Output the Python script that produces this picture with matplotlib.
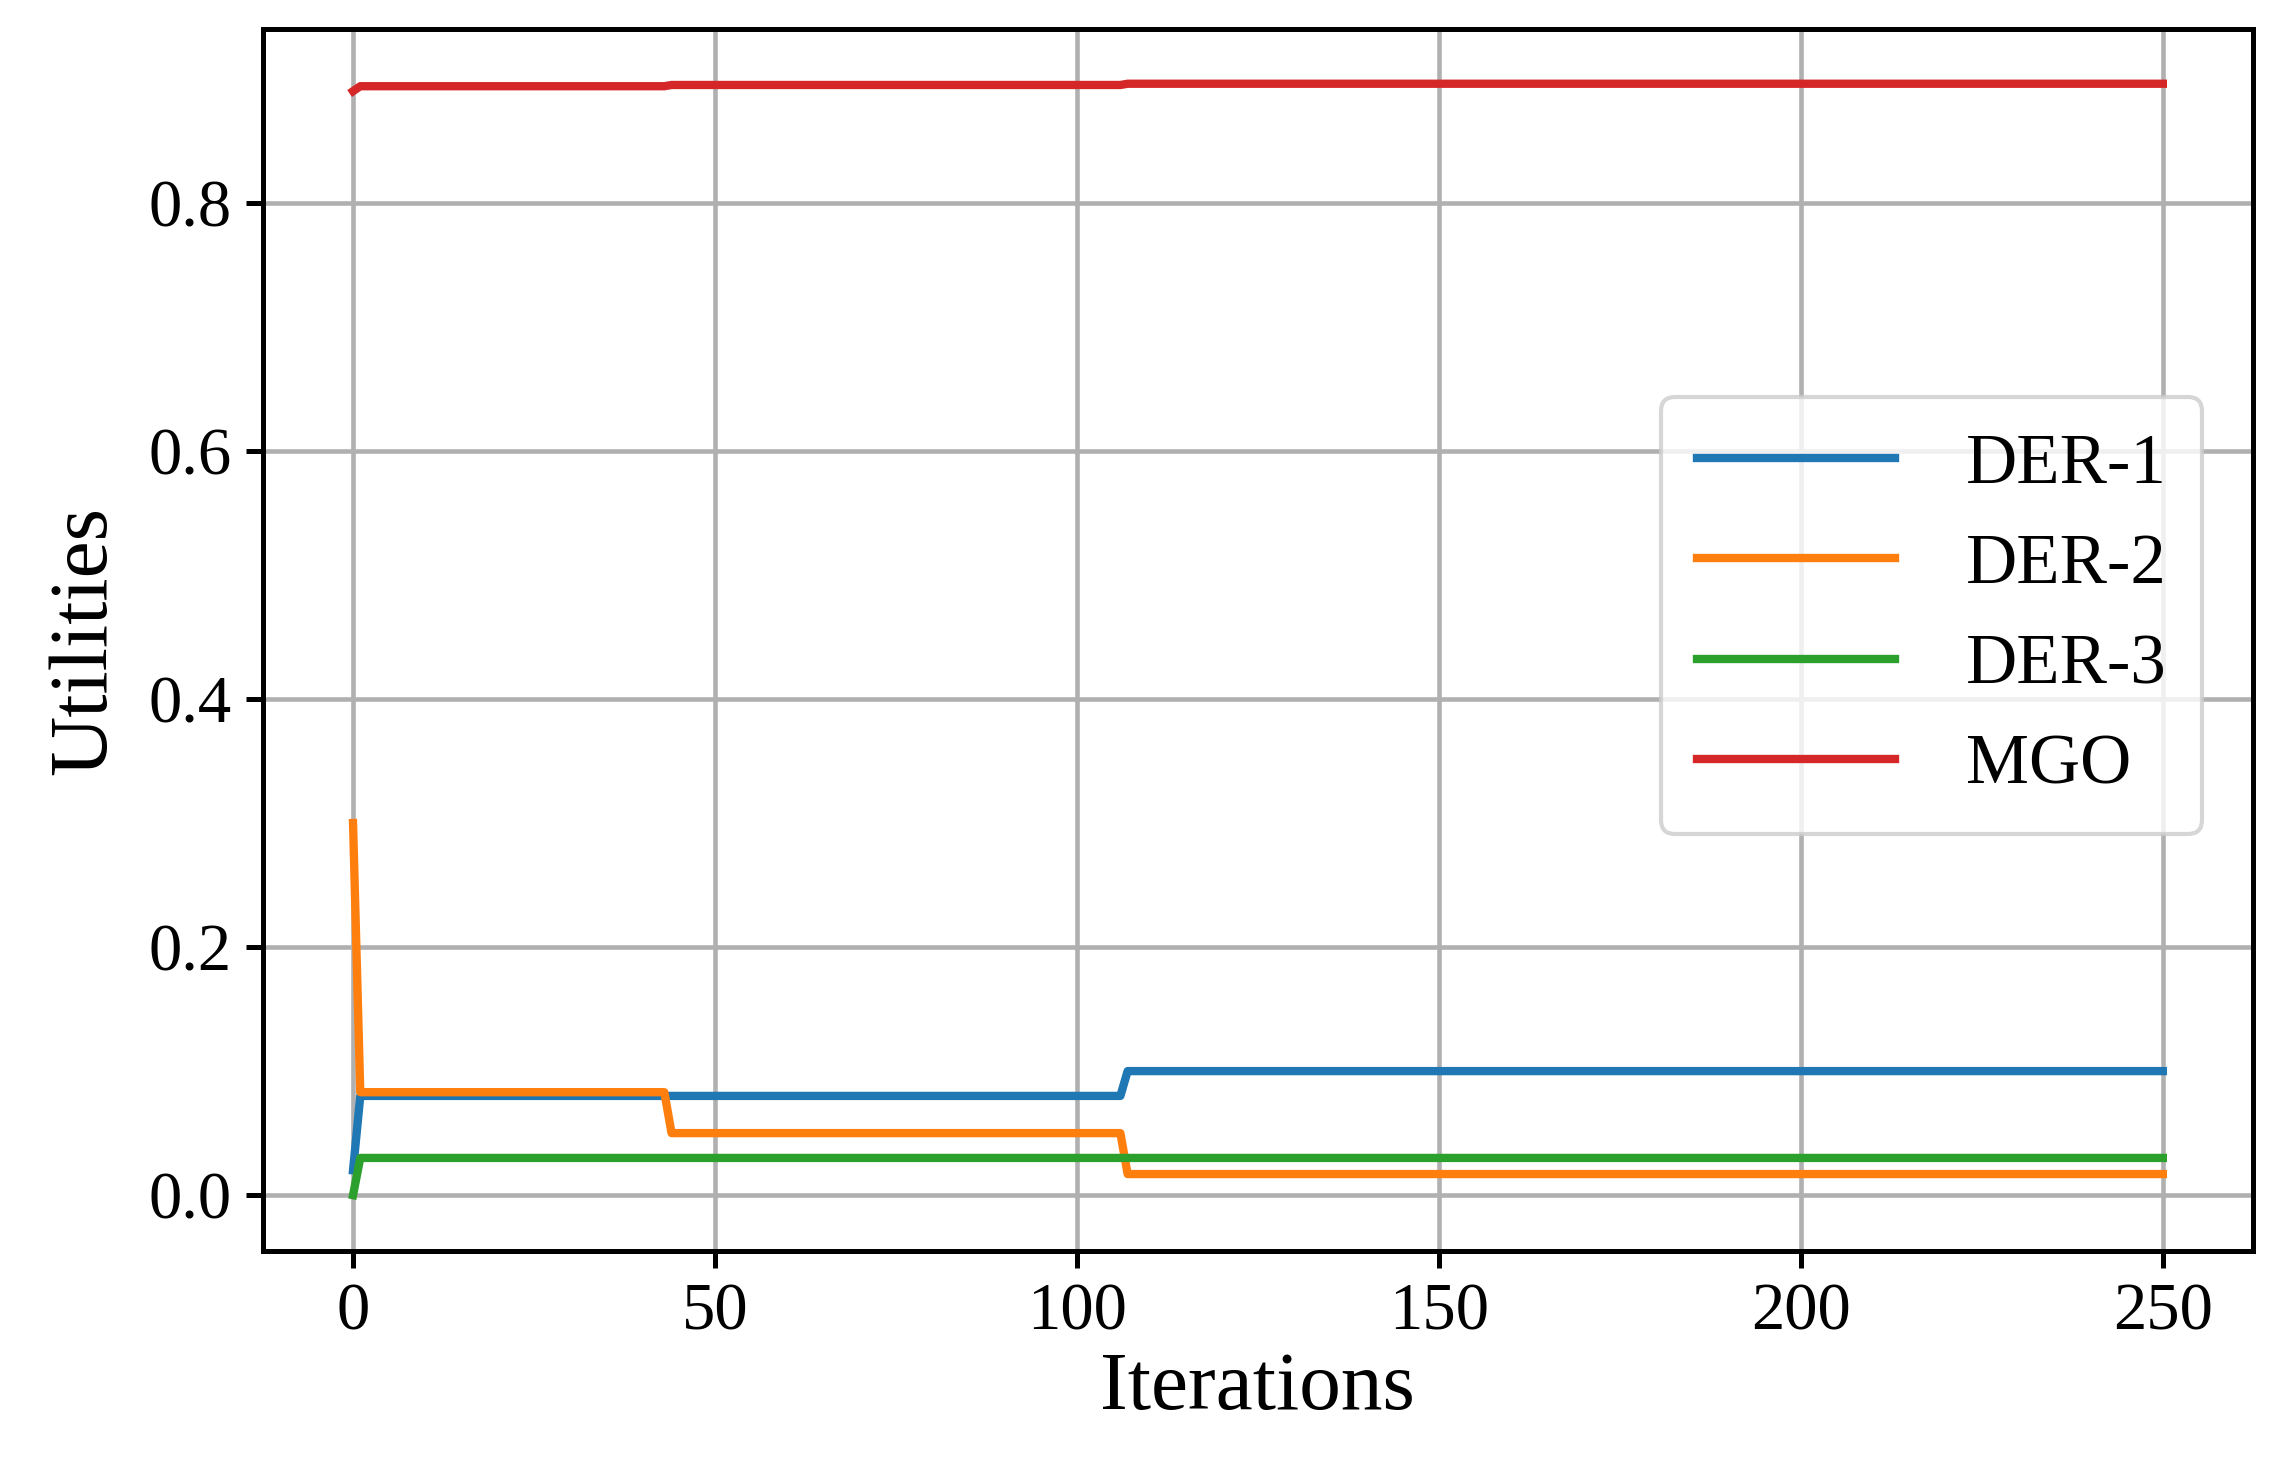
import matplotlib
matplotlib.use("Agg")
import matplotlib.pyplot as plt

plt.rcParams['font.family'] = ['Liberation Serif', 'DejaVu Serif']
plt.rcParams['mathtext.fontset'] = 'stix'

der1_x = [0, 1, 106, 107, 250]
der1_y = [0.02, 0.08, 0.08, 0.10, 0.10]
der2_x = [0, 1, 43, 44, 106, 107, 250]
der2_y = [0.30, 0.083, 0.083, 0.05, 0.05, 0.017, 0.017]
der3_x = [0, 1, 250]
der3_y = [0.0, 0.03, 0.03]
mgo_x = [0, 1, 43, 44, 106, 107, 250]
mgo_y = [0.890, 0.894, 0.894, 0.895, 0.895, 0.896, 0.896]
labels = ["DER-1", "DER-2", "DER-3", "MGO"]

fig = plt.figure(figsize=(7.61, 4.86), dpi=300)
ax = fig.add_axes([0.115, 0.142, 0.872, 0.838])
for s in ax.spines.values():
    s.set_linewidth(1.2)
lw = 2.0
ax.plot(der1_x, der1_y, color='#1f77b4', lw=lw, label=labels[0])
ax.plot(der2_x, der2_y, color='#ff7f0e', lw=lw, label=labels[1])
ax.plot(der3_x, der3_y, color='#2ca02c', lw=lw, label=labels[2])
ax.plot(mgo_x, mgo_y, color='#d62728', lw=lw, label=labels[3])
ax.set_xlim(-12.5, 262.5)
ax.set_ylim(-0.045, 0.94)
ax.set_xticks([0, 50, 100, 150, 200, 250])
ax.set_yticks([0.0, 0.2, 0.4, 0.6, 0.8])
ax.grid(True, color='#b0b0b0', lw=1.1)
ax.tick_params(labelsize=16, width=1.2, length=4)
ax.set_xlabel("Iterations", fontsize=20, labelpad=2)
ax.set_ylabel("Utilities", fontsize=20, labelpad=6)
ax.legend(loc='center right', fontsize=17, bbox_to_anchor=(0.992, 0.52),
          handlelength=2.8, handletextpad=1.0, borderpad=0.5)
fig.savefig("out.png", dpi=300)
